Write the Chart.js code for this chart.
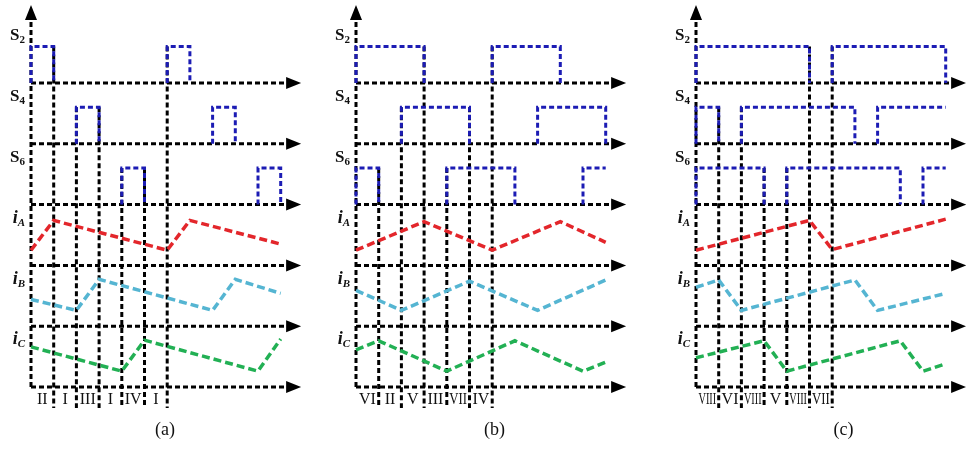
<!DOCTYPE html>
<html>
<head>
<meta charset="utf-8">
<script src="https://cdn.jsdelivr.net/npm/chart.js@4.4.0/dist/chart.umd.min.js"></script>
<style>
  html, body { margin: 0; padding: 0; background: #fff; }
  #wrap { position: relative; width: 966px; height: 449px; overflow: hidden; }
  .panel { position: absolute; top: 0; height: 449px; }
</style>
</head>
<body>
<div id="wrap">
  <div class="panel" style="left:0px;width:320px"><canvas id="chartA"></canvas></div>
  <div class="panel" style="left:325px;width:320px"><canvas id="chartB"></canvas></div>
  <div class="panel" style="left:665px;width:301px"><canvas id="chartC"></canvas></div>
</div>
<script>
// Switching states and phase currents over one period (time in switching steps)
const T_END = 11;

// gate pulses: [on, off], off = null means still on at the end of the window
const s2A = [[0, 1], [6, 7]];
const s4A = [[2, 3], [8, 9]];
const s6A = [[4, 5], [10, 11]];
const iaA = [[0, 2.5], [1, 7.4], [6, 2.5], [7, 7.4], [11, 3.5]];
const ibA = [[0, 4.4], [2, 2.6], [3, 7.7], [8, 2.6], [9, 7.7], [11, 5.4]];
const icA = [[0, 6.6], [4, 2.6], [5, 7.7], [10, 2.6], [11, 7.9]];
const cutsA = [1, 2, 3, 4, 5, 6];
const romanA = ['II', 'I', 'III', 'I', 'IV', 'I'];

const s2B = [[0, 3], [6, 9]];
const s4B = [[2, 5], [8, 11]];
const s6B = [[0, 1], [4, 7], [10, null]];
const iaB = [[0, 2.5], [3, 7.2], [6, 2.5], [9, 7.2], [11, 3.8]];
const ibB = [[0, 5.9], [2, 2.6], [5, 7.4], [8, 2.6], [11, 7.6]];
const icB = [[0, 6.1], [1, 7.6], [4, 2.6], [7, 7.6], [10, 2.6], [11, 4.1]];
const cutsB = [1, 2, 3, 4, 5, 6];
const romanB = ['VI', 'II', 'V', 'III', 'VII', 'IV'];

const s2C = [[0, 5], [6, 11]];
const s4C = [[0, 1], [2, 7], [8, null]];
const s6C = [[0, 3], [4, 9], [10, null]];
const iaC = [[0, 2.5], [5, 7.4], [6, 2.6], [11, 7.6]];
const ibC = [[0, 6.4], [1, 7.6], [2, 2.6], [7, 7.6], [8, 2.6], [11, 5.4]];
const icC = [[0, 4.8], [3, 7.6], [4, 2.6], [9, 7.6], [10, 2.6], [11, 3.8]];
const cutsC = [1, 2, 3, 4, 5, 6];
const romanC = ['VIII', 'VI', 'VIII', 'V', 'VIII', 'VII'];

const names = ['S2', 'S4', 'S6', 'iA', 'iB', 'iC'];
const captions = ['(a)', '(b)', '(c)'];

// layout
const U = 22.7;          // px per step
const MARGIN = 31;       // px between canvas edge and time origin
const T_ARROW = 11.9;
const Y_MIN = -10.2, Y_MAX = 63.65;
const PULSE = 6;
const BASE = { S2: 50, S4: 40, S6: 30, iA: 20, iB: 10, iC: 0 };
const CUT_BOTTOM = -3.45;

const BLUE = '#1c1cb4';
const RED = '#e3262b';
const CYAN = '#55b5d2';
const GREEN = '#22b054';
const SERIF = '"Liberation Serif", "DejaVu Serif", serif';

const panels = [
    { id: 'chartA', width: 320, s2: s2A, s4: s4A, s6: s6A, ia: iaA, ib: ibA, ic: icA, cuts: cutsA, roman: romanA, caption: captions[0], captionAt: 5.9 },
    { id: 'chartB', width: 320, s2: s2B, s4: s4B, s6: s6B, ia: iaB, ib: ibB, ic: icB, cuts: cutsB, roman: romanB, caption: captions[1], captionAt: 6.1 },
    { id: 'chartC', width: 301, s2: s2C, s4: s4C, s6: s6C, ia: iaC, ib: ibC, ic: icC, cuts: cutsC, roman: romanC, caption: captions[2], captionAt: 6.5 }
];

function pulseLine(pulses, base) {
    const pts = [];
    pulses.forEach(([on, off]) => {
        pts.push({ x: on, y: base }, { x: on, y: base + PULSE });
        if (off === null) {
            pts.push({ x: T_END, y: base + PULSE });
        } else {
            pts.push({ x: off, y: base + PULSE }, { x: off, y: base });
        }
        pts.push({ x: off === null ? T_END : off, y: null });
    });
    return pts;
}

function currentLine(knots, base) {
    return knots.map(([t, v]) => ({ x: t, y: base + v }));
}

// highest switch that toggles at time t
function cutTop(p, t) {
    const order = [[p.s2, BASE.S2], [p.s4, BASE.S4], [p.s6, BASE.S6]];
    for (const [pulses, b] of order) {
        if (pulses.some(([on, off]) => on === t || off === t)) return b + PULSE;
    }
    return BASE.S2 + PULSE;
}

function dashed(ctx, x1, y1, x2, y2) {
    ctx.beginPath();
    ctx.moveTo(x1, y1);
    ctx.lineTo(x2, y2);
    ctx.stroke();
}

function drawName(ctx, name, xRight, yMid) {
    const main = name[0], sub = name.slice(1);
    const italic = main === 'i';
    const f1 = (italic ? 'italic bold 18px ' : 'bold 17px ') + SERIF;
    const f2 = (italic ? 'italic bold 11px ' : 'bold 11px ') + SERIF;
    ctx.font = f1;
    const w1 = ctx.measureText(main).width;
    ctx.font = f2;
    const w2 = ctx.measureText(sub).width;
    const x0 = xRight - w1 - w2;
    ctx.textAlign = 'left';
    ctx.textBaseline = 'alphabetic';
    ctx.font = f1;
    ctx.fillText(main, x0, yMid + 6);
    ctx.font = f2;
    ctx.fillText(sub, x0 + w1, yMid + 9);
}

function makeSchematic(p) {
    return {
        id: 'schematic',
        beforeDatasetsDraw(chart) {
            const { ctx, scales: { x, y } } = chart;
            ctx.save();
            ctx.strokeStyle = '#000';
            ctx.lineWidth = 3;
            ctx.setLineDash([5, 3]);
            // horizontal axes
            names.forEach(n => {
                dashed(ctx, x.getPixelForValue(0), y.getPixelForValue(BASE[n]),
                    x.getPixelForValue(T_ARROW) - 12, y.getPixelForValue(BASE[n]));
            });
            // vertical axis
            dashed(ctx, x.getPixelForValue(0), y.getPixelForValue(0),
                x.getPixelForValue(0), y.getPixelForValue(Y_MAX) + 17);
            // interval cuts
            p.cuts.forEach(t => {
                dashed(ctx, x.getPixelForValue(t), y.getPixelForValue(cutTop(p, t)),
                    x.getPixelForValue(t), y.getPixelForValue(CUT_BOTTOM));
            });
            ctx.restore();
        },
        afterDatasetsDraw(chart) {
            const { ctx, scales: { x, y } } = chart;
            ctx.save();
            ctx.fillStyle = '#000';
            // arrow heads
            const tipX = x.getPixelForValue(T_ARROW);
            names.forEach(n => {
                const yy = y.getPixelForValue(BASE[n]);
                ctx.beginPath();
                ctx.moveTo(tipX, yy);
                ctx.lineTo(tipX - 15, yy - 6);
                ctx.lineTo(tipX - 15, yy + 6);
                ctx.closePath();
                ctx.fill();
            });
            const ax = x.getPixelForValue(0);
            const top = y.getPixelForValue(Y_MAX) + 5;
            ctx.beginPath();
            ctx.moveTo(ax, top);
            ctx.lineTo(ax - 6, top + 15);
            ctx.lineTo(ax + 6, top + 15);
            ctx.closePath();
            ctx.fill();

            // channel names
            ctx.fillStyle = '#111';
            names.forEach(n => drawName(ctx, n, ax - 6, y.getPixelForValue(BASE[n] + 8)));

            // interval numerals
            ctx.font = '16px ' + SERIF;
            ctx.textBaseline = 'middle';
            ctx.textAlign = 'center';
            p.roman.forEach((r, i) => {
                const cx = x.getPixelForValue(i + 0.5);
                const cy = y.getPixelForValue(-2.1);
                const w = ctx.measureText(r).width;
                const maxW = U - 5;
                ctx.save();
                ctx.translate(cx, cy);
                if (w > maxW) ctx.scale(maxW / w, 1);
                ctx.fillText(r, 0, 0);
                ctx.restore();
            });

            // caption
            ctx.font = '18px ' + SERIF;
            ctx.fillText(p.caption, x.getPixelForValue(p.captionAt), 430);
            ctx.restore();
        }
    };
}

function drawPanel(p) {
    const canvas = document.getElementById(p.id);
    canvas.width = p.width;
    canvas.height = 449;
    canvas.style.width = p.width + 'px';
    canvas.style.height = '449px';

    const pulseStyle = { borderColor: BLUE, borderWidth: 3, borderDash: [5, 3], spanGaps: false };
    const currentStyle = { borderWidth: 3.5, borderDash: [8, 4] };

    new Chart(canvas.getContext('2d'), {
        type: 'line',
        data: {
            datasets: [
                { label: 'S2', data: pulseLine(p.s2, BASE.S2), ...pulseStyle },
                { label: 'S4', data: pulseLine(p.s4, BASE.S4), ...pulseStyle },
                { label: 'S6', data: pulseLine(p.s6, BASE.S6), ...pulseStyle },
                { label: 'iA', data: currentLine(p.ia, BASE.iA), borderColor: RED, ...currentStyle },
                { label: 'iB', data: currentLine(p.ib, BASE.iB), borderColor: CYAN, ...currentStyle },
                { label: 'iC', data: currentLine(p.ic, BASE.iC), borderColor: GREEN, ...currentStyle }
            ]
        },
        options: {
            responsive: false,
            animation: false,
            devicePixelRatio: 1,
            layout: { padding: 0 },
            elements: {
                point: { radius: 0 },
                line: { tension: 0, fill: false }
            },
            plugins: {
                legend: { display: false },
                tooltip: { enabled: false }
            },
            scales: {
                x: { type: 'linear', display: false, min: -MARGIN / U, max: -MARGIN / U + p.width / U },
                y: { type: 'linear', display: false, min: Y_MIN, max: Y_MAX }
            }
        },
        plugins: [makeSchematic(p)]
    });
}

panels.forEach(drawPanel);
</script>
</body>
</html>
